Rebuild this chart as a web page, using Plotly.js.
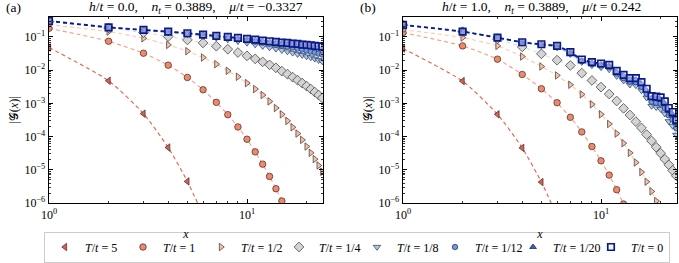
<!DOCTYPE html>
<html><head><meta charset="utf-8">
<script src="https://cdn.plot.ly/plotly-3.0.1.min.js"></script>
<style>html,body{margin:0;padding:0;background:#fff}#plot{width:679px;height:263px}</style>
</head><body><div id="plot"></div>
<script>
// distances x (sites)
const xSites = [1,2,3,4,5,6,7,8,9,10,11,12,13,14,15,16,17,18,19,20,21,22,23,24];

// legend labels
const seriesNames = ['5','1','1/2','1/4','1/8','1/12','1/20','0'];

// log10 |G(x)|: h/t = 0.0
const aT5    = [-1.32,-2.32,-3.31,-4.33,-5.35,-6.37];
const aT1    = [-0.74,-1.13,-1.49,-1.85,-2.22,-2.59,-2.97,-3.34,-3.71,-4.08,-4.46,-4.83,-5.20,-5.57,-5.94,-6.31];
const aT1_2  = [-0.63,-0.84,-1.04,-1.24,-1.43,-1.62,-1.82,-2.02,-2.20,-2.39,-2.57,-2.75,-2.94,-3.14,-3.33,-3.53,-3.72,-3.91,-4.10,-4.30,-4.49,-4.68,-4.87,-5.06];
const aT1_4  = [-0.54,-0.73,-0.87,-0.99,-1.09,-1.18,-1.28,-1.37,-1.47,-1.57,-1.66,-1.75,-1.84,-1.93,-2.03,-2.12,-2.21,-2.30,-2.39,-2.48,-2.57,-2.66,-2.75,-2.84];
const aT1_8  = [-0.53,-0.72,-0.81,-0.87,-0.93,-0.98,-1.03,-1.08,-1.13,-1.18,-1.23,-1.28,-1.32,-1.36,-1.40,-1.44,-1.48,-1.52,-1.55,-1.59,-1.62,-1.66,-1.70,-1.74];
const aT1_12 = [-0.53,-0.71,-0.80,-0.85,-0.90,-0.95,-0.99,-1.03,-1.07,-1.10,-1.14,-1.17,-1.20,-1.23,-1.26,-1.29,-1.32,-1.35,-1.38,-1.41,-1.44,-1.47,-1.50,-1.53];
const aT1_20 = [-0.52,-0.71,-0.79,-0.84,-0.89,-0.93,-0.97,-1.00,-1.04,-1.07,-1.09,-1.12,-1.14,-1.16,-1.18,-1.20,-1.22,-1.24,-1.26,-1.27,-1.29,-1.31,-1.32,-1.34];
const aT0    = [-0.52,-0.71,-0.79,-0.84,-0.89,-0.93,-0.97,-1.00,-1.03,-1.06,-1.08,-1.11,-1.13,-1.15,-1.17,-1.18,-1.20,-1.21,-1.23,-1.24,-1.25,-1.27,-1.28,-1.29];

// log10 |G(x)|: h/t = 1.0
const bT5    = [-1.35,-2.33,-3.33,-4.34,-5.37,-6.40];
const bT1    = [-0.87,-1.27,-1.67,-2.13,-2.56,-2.98,-3.42,-3.86,-4.30,-4.73,-5.16,-5.60,-6.03];
const bT1_2  = [-0.78,-1.02,-1.27,-1.59,-1.89,-2.16,-2.44,-2.73,-3.03,-3.33,-3.62,-3.91,-4.20,-4.49,-4.78,-5.07,-5.36,-5.65,-5.94,-6.23];
const bT1_4  = [-0.65,-0.84,-1.06,-1.30,-1.51,-1.70,-1.86,-2.09,-2.31,-2.51,-2.72,-2.93,-3.15,-3.35,-3.55,-3.74,-3.94,-4.13,-4.32,-4.50,-4.68,-4.85,-5.02,-5.18];
const bT1_8  = [-0.64,-0.84,-1.03,-1.18,-1.25,-1.32,-1.52,-1.76,-1.86,-1.92,-1.98,-2.18,-2.32,-2.44,-2.46,-2.61,-2.83,-3.08,-3.12,-3.17,-3.31,-3.54,-3.68,-3.95];
const bT1_12 = [-0.64,-0.84,-1.02,-1.17,-1.24,-1.30,-1.49,-1.72,-1.81,-1.86,-1.91,-2.10,-2.24,-2.35,-2.36,-2.50,-2.71,-2.95,-2.98,-3.01,-3.14,-3.36,-3.49,-3.75];
const bT1_20 = [-0.64,-0.84,-1.02,-1.16,-1.23,-1.28,-1.47,-1.70,-1.78,-1.82,-1.86,-2.05,-2.17,-2.28,-2.28,-2.41,-2.61,-2.84,-2.87,-2.89,-3.02,-3.23,-3.35,-3.60];
const bT0    = [-0.64,-0.84,-1.02,-1.16,-1.22,-1.27,-1.46,-1.68,-1.76,-1.80,-1.84,-2.02,-2.14,-2.24,-2.24,-2.36,-2.56,-2.78,-2.80,-2.82,-2.94,-3.14,-3.26,-3.50];

// tick exponents
const yTickExp = [-6,-5,-4,-3,-2,-1];
const xTickExp = [0,1];

const panelA = [aT5,aT1,aT1_2,aT1_4,aT1_8,aT1_12,aT1_20,aT0];
const panelB = [bT5,bT1,bT1_2,bT1_4,bT1_8,bT1_12,bT1_20,bT0];

const styles = [
  {sym:'triangle-left',  fill:'#d9604c', edge:'#3a2a2a', lc:'#e0604c', lw:1.1, size:6.5},
  {sym:'circle',         fill:'#f2886a', edge:'#3a2a2a', lc:'#f49c7e', lw:1.1, size:6.5},
  {sym:'triangle-right', fill:'#fbc0a4', edge:'#3a3030', lc:'#fcc9b0', lw:1.1, size:6.5},
  {sym:'diamond',        fill:'#d4d4d4', edge:'#333333', lc:'#dedede', lw:1.1, size:7.5},
  {sym:'triangle-down',  fill:'#a9c8ee', edge:'#2c3550', lc:'#b5d0f0', lw:1.1, size:6.5},
  {sym:'circle',         fill:'#6e9ae2', edge:'#202a50', lc:'#86aae6', lw:1.1, size:5.5},
  {sym:'triangle-up',    fill:'#3a5fc6', edge:'#141c48', lc:'#4a6cca', lw:1.1, size:6},
  {sym:'square',         fill:'rgba(235,240,255,0.5)', edge:'#0a1a8c', lc:'#0a1a8c', lw:1.8, size:6.5}
];

const traces = [];
function addPanel(panel, xa, ya, legend) {
  panel.forEach((vals, i) => {
    const st = styles[i];
    const xs = xSites.slice(0, vals.length);
    const ys = vals.map(v => Math.pow(10, v));
    traces.push({x: xs, y: ys, xaxis: xa, yaxis: ya, mode: 'lines', type: 'scatter',
      line: {color: st.lc, width: st.lw, dash: '4px,3px', shape: 'spline', smoothing: 0.6},
      showlegend: false, hoverinfo: 'skip'});
    traces.push({x: xs, y: ys, xaxis: xa, yaxis: ya, mode: 'markers', type: 'scatter',
      name: '<i>T</i>/<i>t</i> = ' + seriesNames[i],
      marker: {symbol: st.sym, size: st.size, color: st.fill,
               line: {color: st.edge, width: i === 7 ? 1.7 : 0.7}},
      showlegend: legend});
  });
}
addPanel(panelA, 'x', 'y', true);
addPanel(panelB, 'x2', 'y2', false);

const fam = 'Liberation Serif';
const font = {family: fam, size: 12, color: '#000'};
const titleFont = {family: fam, size: 13.5, color: '#000'};
const minorX = [2,3,4,5,6,7,8,9,20];
const minorY = [];
yTickExp.forEach(e => { for (let m = 2; m <= 9; m++) minorY.push(m * Math.pow(10, e)); });

function xAxis(dom, anchor) {
  return {type: 'log', domain: dom, anchor: anchor, range: [0, Math.log10(24.2)],
    tickmode: 'array', tickvals: xTickExp.map(e => Math.pow(10, e)),
    ticktext: xTickExp.map(e => '10<sup>' + e + '</sup>'),
    ticks: 'inside', ticklen: 4, tickwidth: 1, tickcolor: '#000',
    minor: {tickmode: 'array', tickvals: minorX, ticks: 'inside', ticklen: 2.2, tickwidth: 0.8, tickcolor: '#000', showgrid: false},
    showline: true, linecolor: '#000', linewidth: 1.3, mirror: 'allticks',
    showgrid: false, zeroline: false, tickfont: font,
    title: {text: '<i>x</i>', font: font, standoff: 9}};
}
function yAxis(anchor) {
  return {type: 'log', domain: [1 - 203/263, 1 - 17/263], anchor: anchor, range: [-6, -0.4],
    tickmode: 'array', tickvals: yTickExp.map(e => Math.pow(10, e)),
    ticktext: yTickExp.map(e => '10<sup>\u2212' + (-e) + '</sup>'),
    ticks: 'inside', ticklen: 4, tickwidth: 1, tickcolor: '#000',
    minor: {tickmode: 'array', tickvals: minorY, ticks: 'inside', ticklen: 2.2, tickwidth: 0.8, tickcolor: '#000', showgrid: false},
    showline: true, linecolor: '#000', linewidth: 1.3, mirror: 'allticks',
    showgrid: false, zeroline: false, tickfont: font,
    title: {text: '|\uD835\uDCA2(<i>x</i>)|', font: font, standoff: 3}};
}

const sp = '\u00a0\u00a0\u00a0\u00a0';
const titleA = '<i>h</i>/<i>t</i> = 0.0,' + sp + '<i>n</i><sub><i>t</i></sub> = 0.3889,' + sp + '<i>μ</i>/<i>t</i> = \u22120.3327';
const titleB = '<i>h</i>/<i>t</i> = 1.0,' + sp + '<i>n</i><sub><i>t</i></sub> = 0.3889,' + sp + '<i>μ</i>/<i>t</i> = 0.242';

const layout = {
  width: 679, height: 263,
  margin: {l: 0, r: 0, t: 0, b: 0},
  paper_bgcolor: '#fff', plot_bgcolor: '#fff',
  font: font,
  showlegend: true,
  xaxis: xAxis([49/679, 323/679], 'y'),
  yaxis: yAxis('x'),
  xaxis2: xAxis([403/679, 677/679], 'y2'),
  yaxis2: yAxis('x2'),
  legend: {orientation: 'h', x: 44/679, xanchor: 'left', y: 1 - 247/263, yanchor: 'middle',
    bgcolor: '#fff', bordercolor: '#cccccc', borderwidth: 1, font: font,
    itemwidth: 30, entrywidth: 33, entrywidthmode: 'pixels'},
  annotations: [
    {text: titleA, xref: 'paper', yref: 'paper', x: 196/679, y: 1 - 7/263, xanchor: 'center', yanchor: 'middle', showarrow: false, font: titleFont},
    {text: titleB, xref: 'paper', yref: 'paper', x: 541/679, y: 1 - 7/263, xanchor: 'center', yanchor: 'middle', showarrow: false, font: titleFont},
    {text: '(a)', xref: 'paper', yref: 'paper', x: 13/679, y: 1 - 7/263, xanchor: 'center', yanchor: 'middle', showarrow: false, font: titleFont},
    {text: '(b)', xref: 'paper', yref: 'paper', x: 368/679, y: 1 - 7/263, xanchor: 'center', yanchor: 'middle', showarrow: false, font: titleFont}
  ]
};

Plotly.newPlot('plot', traces, layout, {displayModeBar: false, staticPlot: true});
</script>
</body></html>
